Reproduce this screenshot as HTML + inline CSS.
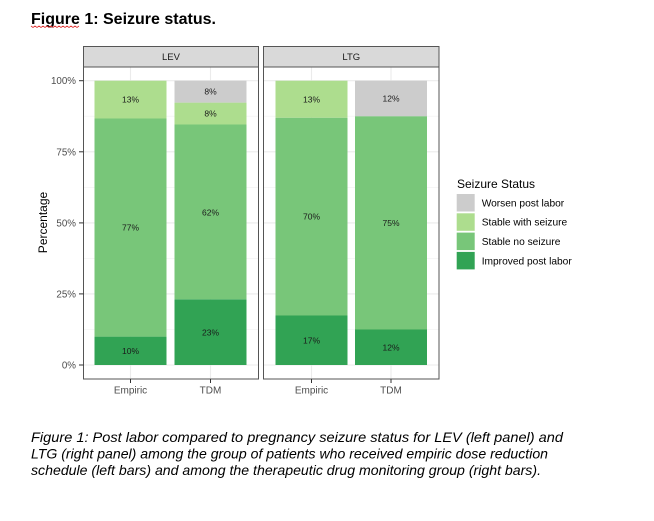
<!DOCTYPE html>
<html><head><meta charset="utf-8"><style>
html,body{margin:0;padding:0;background:#fff;}
svg{display:block;}
text{font-family:"Liberation Sans",Arial,sans-serif;}
</style></head><body>
<svg width="654" height="521" viewBox="0 0 654 521" xmlns="http://www.w3.org/2000/svg">
<rect width="654" height="521" fill="#fff"/>
<!-- Title -->
<text x="31" y="24" font-size="16" font-weight="bold" fill="#000">Figure 1: Seizure status.</text>
<polyline points="31,26 33,27.5 35,26 37,27.5 39,26 41,27.5 43,26 45,27.5 47,26 49,27.5 51,26 53,27.5 55,26 57,27.5 59,26 61,27.5 63,26 65,27.5 67,26 69,27.5 71,26 73,27.5 75,26 77,27.5 79,26" fill="none" stroke="#e03030" stroke-width="0.8"/>

<!-- LEV panel background + grid -->
<g>
<rect x="83.5" y="67" width="175" height="312" fill="#fff"/>
<g stroke="#f0f0f0" stroke-width="0.6">
<line x1="83.5" x2="258.5" y1="116.2" y2="116.2"/>
<line x1="83.5" x2="258.5" y1="187.3" y2="187.3"/>
<line x1="83.5" x2="258.5" y1="258.4" y2="258.4"/>
<line x1="83.5" x2="258.5" y1="329.5" y2="329.5"/>
</g>
<g stroke="#ebebeb" stroke-width="1.1">
<line x1="83.5" x2="258.5" y1="80.7" y2="80.7"/>
<line x1="83.5" x2="258.5" y1="151.8" y2="151.8"/>
<line x1="83.5" x2="258.5" y1="222.9" y2="222.9"/>
<line x1="83.5" x2="258.5" y1="293.9" y2="293.9"/>
<line x1="83.5" x2="258.5" y1="365" y2="365"/>
<line x1="130.5" x2="130.5" y1="67" y2="379"/>
<line x1="210.5" x2="210.5" y1="67" y2="379"/>
</g>
<!-- Empiric -->
<rect x="94.5" y="336.6" width="72" height="28.4" fill="#31a354"/>
<rect x="94.5" y="118.5" width="72" height="218.1" fill="#78c679"/>
<rect x="94.5" y="80.7" width="72" height="37.8" fill="#addd8e"/>
<!-- TDM -->
<rect x="174.5" y="299.3" width="72" height="65.7" fill="#31a354"/>
<rect x="174.5" y="124.5" width="72" height="174.8" fill="#78c679"/>
<rect x="174.5" y="102.6" width="72" height="21.9" fill="#addd8e"/>
<rect x="174.5" y="80.7" width="72" height="21.9" fill="#cccccc"/>
<g font-size="8.5" fill="#1a1a1a" text-anchor="middle">
<text x="130.5" y="353.9">10%</text>
<text x="130.5" y="230.6">77%</text>
<text x="130.5" y="102.7">13%</text>
<text x="210.5" y="335.6">23%</text>
<text x="210.5" y="215.3">62%</text>
<text x="210.5" y="116.6">8%</text>
<text x="210.5" y="94.7">8%</text>
</g>
<rect x="83.5" y="67" width="175" height="312" fill="none" stroke="#555" stroke-width="1"/>
<rect x="83.5" y="46.5" width="175" height="20.5" fill="#d9d9d9" stroke="#555" stroke-width="1"/>
<text x="171" y="60" font-size="9.5" fill="#1a1a1a" text-anchor="middle">LEV</text>
</g>

<!-- LTG panel -->
<g>
<rect x="263.5" y="67" width="175.5" height="312" fill="#fff"/>
<g stroke="#f0f0f0" stroke-width="0.6">
<line x1="263.5" x2="439" y1="116.2" y2="116.2"/>
<line x1="263.5" x2="439" y1="187.3" y2="187.3"/>
<line x1="263.5" x2="439" y1="258.4" y2="258.4"/>
<line x1="263.5" x2="439" y1="329.5" y2="329.5"/>
</g>
<g stroke="#ebebeb" stroke-width="1.1">
<line x1="263.5" x2="439" y1="80.7" y2="80.7"/>
<line x1="263.5" x2="439" y1="151.8" y2="151.8"/>
<line x1="263.5" x2="439" y1="222.9" y2="222.9"/>
<line x1="263.5" x2="439" y1="293.9" y2="293.9"/>
<line x1="263.5" x2="439" y1="365" y2="365"/>
<line x1="311.5" x2="311.5" y1="67" y2="379"/>
<line x1="391" x2="391" y1="67" y2="379"/>
</g>
<rect x="275.5" y="315.5" width="72" height="49.5" fill="#31a354"/>
<rect x="275.5" y="117.7" width="72" height="197.8" fill="#78c679"/>
<rect x="275.5" y="80.7" width="72" height="37" fill="#addd8e"/>
<rect x="355" y="329.5" width="72" height="35.5" fill="#31a354"/>
<rect x="355" y="116.2" width="72" height="213.3" fill="#78c679"/>
<rect x="355" y="80.7" width="72" height="35.5" fill="#cccccc"/>
<g font-size="8.5" fill="#1a1a1a" text-anchor="middle">
<text x="311.5" y="343.4">17%</text>
<text x="311.5" y="219.7">70%</text>
<text x="311.5" y="102.3">13%</text>
<text x="391" y="350.3">12%</text>
<text x="391" y="226">75%</text>
<text x="391" y="101.6">12%</text>
</g>
<rect x="263.5" y="67" width="175.5" height="312" fill="none" stroke="#555" stroke-width="1"/>
<rect x="263.5" y="46.5" width="175.5" height="20.5" fill="#d9d9d9" stroke="#555" stroke-width="1"/>
<text x="351.3" y="60" font-size="9.5" fill="#1a1a1a" text-anchor="middle">LTG</text>
</g>

<!-- Y axis -->
<g stroke="#333" stroke-width="1">
<line x1="79" x2="83.5" y1="80.7" y2="80.7"/>
<line x1="79" x2="83.5" y1="151.8" y2="151.8"/>
<line x1="79" x2="83.5" y1="222.9" y2="222.9"/>
<line x1="79" x2="83.5" y1="293.9" y2="293.9"/>
<line x1="79" x2="83.5" y1="365" y2="365"/>
<line x1="130.5" x2="130.5" y1="379" y2="383"/>
<line x1="210.5" x2="210.5" y1="379" y2="383"/>
<line x1="311.5" x2="311.5" y1="379" y2="383"/>
<line x1="391" x2="391" y1="379" y2="383"/>
</g>
<g font-size="9.8" fill="#4d4d4d" text-anchor="end">
<text x="76" y="84.2">100%</text>
<text x="76" y="155.3">75%</text>
<text x="76" y="226.4">50%</text>
<text x="76" y="297.4">25%</text>
<text x="76" y="368.5">0%</text>
</g>
<g font-size="10" fill="#4d4d4d" text-anchor="middle">
<text x="130.5" y="393.5">Empiric</text>
<text x="210.5" y="393.5">TDM</text>
<text x="311.5" y="393.5">Empiric</text>
<text x="391" y="393.5">TDM</text>
</g>
<text transform="translate(47,222.5) rotate(-90)" font-size="12" fill="#000" text-anchor="middle">Percentage</text>

<!-- Legend -->
<text x="457" y="188" font-size="12" fill="#000">Seizure Status</text>
<rect x="456.7" y="194" width="18" height="17.5" fill="#cccccc"/>
<rect x="456.7" y="213.3" width="18" height="17.5" fill="#addd8e"/>
<rect x="456.7" y="232.6" width="18" height="17.5" fill="#78c679"/>
<rect x="456.7" y="251.9" width="18" height="17.5" fill="#31a354"/>
<g font-size="10.2" fill="#000">
<text x="481.7" y="206.4">Worsen post labor</text>
<text x="481.7" y="225.7">Stable with seizure</text>
<text x="481.7" y="245">Stable no seizure</text>
<text x="481.7" y="264.3">Improved post labor</text>
</g>

<!-- Caption -->
<g font-size="14" font-style="italic" fill="#000">
<text x="31" y="442" textLength="532" lengthAdjust="spacingAndGlyphs">Figure 1: Post labor compared to pregnancy seizure status for LEV (left panel) and</text>
<text x="31" y="458.5" textLength="517" lengthAdjust="spacingAndGlyphs">LTG (right panel) among the group of patients who received empiric dose reduction</text>
<text x="31" y="475" textLength="510" lengthAdjust="spacingAndGlyphs">schedule (left bars) and among the therapeutic drug monitoring group (right bars).</text>
</g>
</svg>
</body></html>
